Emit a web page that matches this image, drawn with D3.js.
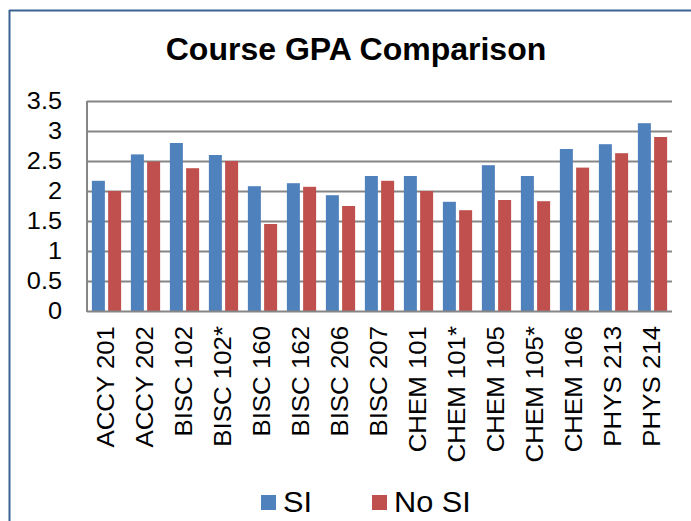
<!DOCTYPE html>
<html>
<head>
<meta charset="utf-8">
<script src="https://cdn.jsdelivr.net/npm/d3@7"></script>
<style>
  html, body { margin: 0; padding: 0; background: #fff; }
  svg { display: block; font-family: "Liberation Sans", Arial, sans-serif; }
</style>
</head>
<body>
<svg id="chart" width="691" height="521"></svg>
<script>
const categories = ["ACCY 201","ACCY 202","BISC 102","BISC 102*","BISC 160","BISC 162","BISC 206","BISC 207","CHEM 101","CHEM 101*","CHEM 105","CHEM 105*","CHEM 106","PHYS 213","PHYS 214"];
const seriesNames = ["SI", "No SI"];
const siValues   = [2.17, 2.61, 2.80, 2.60, 2.08, 2.13, 1.93, 2.25, 2.25, 1.82, 2.43, 2.25, 2.70, 2.78, 3.13];
const noSiValues = [2.00, 2.49, 2.38, 2.50, 1.45, 2.07, 1.75, 2.17, 2.00, 1.68, 1.85, 1.83, 2.39, 2.63, 2.90];
const yTicks = [0, 0.5, 1, 1.5, 2, 2.5, 3, 3.5];
const colors = ["#4F81BD", "#C0504D"];
const chartTitle = "Course GPA Comparison";

const svg = d3.select("#chart");

// outer frame (top and left edges visible)
svg.append("line").attr("x1", 9).attr("x2", 691).attr("y1", 10.5).attr("y2", 10.5)
  .attr("stroke", "#3A6394").attr("stroke-width", 2);
svg.append("line").attr("x1", 9.5).attr("x2", 9.5).attr("y1", 10).attr("y2", 521)
  .attr("stroke", "#3A6394").attr("stroke-width", 2);

const pLeft = 87, pRight = 672, pTop = 101, pBottom = 311;

const x = d3.scaleBand().domain(categories).range([pLeft, pRight]).paddingInner(0).paddingOuter(0);
const xs = d3.scaleBand().domain(seriesNames).range([0, x.bandwidth()]).paddingInner(0.2).paddingOuter(0.3);
const y = d3.scaleLinear().domain([0, 3.5]).range([pBottom, pTop]);

// gridlines
svg.append("g").selectAll("line").data(yTicks.filter(d => d > 0)).join("line")
  .attr("x1", pLeft).attr("x2", pRight)
  .attr("y1", d => Math.round(y(d)) + 0.5).attr("y2", d => Math.round(y(d)) + 0.5)
  .attr("stroke", "#868686").attr("stroke-width", 2);

// bars
const data = categories.map((c, i) => ({ cat: c, vals: [siValues[i], noSiValues[i]] }));
const groups = svg.append("g").selectAll("g").data(data).join("g")
  .attr("transform", d => `translate(${x(d.cat)},0)`);
groups.selectAll("rect").data(d => d.vals.map((v, j) => ({ key: seriesNames[j], v, j }))).join("rect")
  .attr("x", d => xs(d.key))
  .attr("width", xs.bandwidth())
  .attr("y", d => y(d.v))
  .attr("height", d => y(0) - y(d.v))
  .attr("fill", d => colors[d.j]);

// axes lines
svg.append("line").attr("x1", pLeft).attr("x2", pLeft).attr("y1", pTop).attr("y2", pBottom + 1)
  .attr("stroke", "#868686").attr("stroke-width", 2);
svg.append("line").attr("x1", pLeft).attr("x2", pRight).attr("y1", pBottom + 0.5).attr("y2", pBottom + 0.5)
  .attr("stroke", "#868686").attr("stroke-width", 2);

// y tick labels
svg.append("g").selectAll("text").data(yTicks).join("text")
  .attr("transform", d => `translate(62,${y(d) + 8}) scale(1.1,1)`)
  .attr("text-anchor", "end")
  .attr("font-size", 23)
  .attr("fill", "#000")
  .text(d => d3.format("")(d));

// x labels rotated
svg.append("g").selectAll("text").data(categories).join("text")
  .attr("transform", d => `translate(${x(d) + x.bandwidth() / 2 + 7.5},326) rotate(-90) scale(1.1,1)`)
  .attr("text-anchor", "end")
  .attr("font-size", 23.5)
  .attr("fill", "#000")
  .text(d => d);

// title
svg.append("text").attr("x", 356).attr("y", 60)
  .attr("text-anchor", "middle").attr("font-size", 32).attr("font-weight", "bold")
  .attr("fill", "#000").text(chartTitle);

// legend
const legendX = [261, 372];
const lg = svg.append("g").selectAll("g").data(seriesNames).join("g")
  .attr("transform", (d, i) => `translate(${legendX[i]},495)`);
lg.append("rect").attr("width", 15).attr("height", 15).attr("fill", (d, i) => colors[i]);
lg.append("text").attr("transform", "translate(22,17) scale(1.06,1)").attr("font-size", 29).attr("fill", "#000").text(d => d);
</script>
</body>
</html>
